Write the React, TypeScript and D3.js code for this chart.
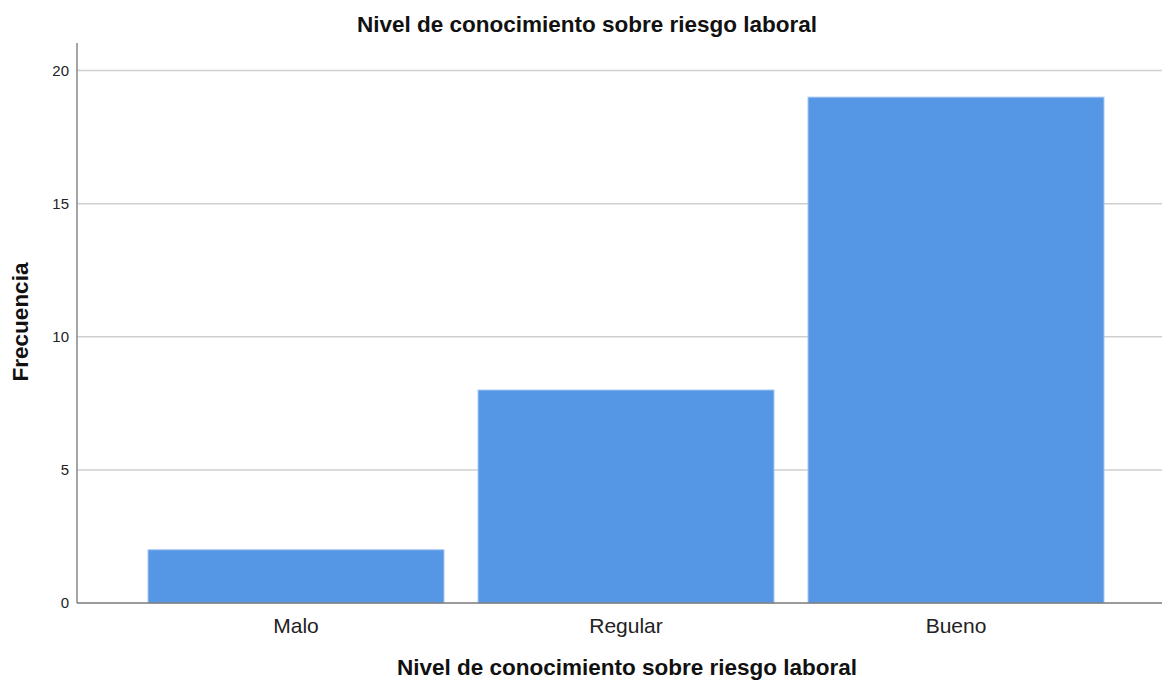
import React from "react";
import * as d3 from "d3";

const categories = ["Malo", "Regular", "Bueno"];
const values = [2, 8, 19];
const yTicks = [0, 5, 10, 15, 20];
const title = "Nivel de conocimiento sobre riesgo laboral";
const xTitle = "Nivel de conocimiento sobre riesgo laboral";
const yTitle = "Frecuencia";

export default function App() {
  const W = 1162, H = 683;
  const left = 77, right = 1162, top = 43, bottom = 603;
  const y = d3.scaleLinear().domain([0, 20]).range([bottom, 70.5]);
  const x = d3.scaleBand().domain(categories).range([148, 1104]).paddingInner(34 / 330).paddingOuter(0);
  const font = "'Liberation Sans', Arial, sans-serif";
  return (
    <svg width={W} height={H} style={{ position: "absolute", left: 0, top: 0 }} fontFamily={font}>
      <rect width={W} height={H} fill="#fff" />
      {yTicks.filter(t => t > 0).map(t => (
        <line key={t} x1={left} x2={right} y1={y(t)} y2={y(t)} stroke="#cfcfcf" strokeWidth={1.5} />
      ))}
      {categories.map((c, i) => (
        <rect key={c} x={x(c)!} y={y(values[i])} width={x.bandwidth()} height={bottom - y(values[i])}
          fill="#5596e5" stroke="#a9c8f0" strokeWidth={1} />
      ))}
      <line x1={left} x2={left} y1={top} y2={bottom} stroke="#888" strokeWidth={1.5} />
      <line x1={left} x2={right} y1={bottom} y2={bottom} stroke="#7a7a7a" strokeWidth={1.5} />
      {yTicks.map(t => (
        <text key={t} x={left - 8} y={y(t)} dy="0.35em" textAnchor="end" fontSize={15} fill="#222">{t}</text>
      ))}
      {categories.map(c => (
        <text key={c} x={x(c)! + x.bandwidth() / 2} y={633} textAnchor="middle" fontSize={21} fill="#222">{c}</text>
      ))}
      <text x={587} y={32} textAnchor="middle" fontSize={22.5} fontWeight="bold" fill="#111">{title}</text>
      <text x={627} y={675} textAnchor="middle" fontSize={22.5} fontWeight="bold" fill="#111">{xTitle}</text>
      <text transform={`translate(28,${322}) rotate(-90)`} textAnchor="middle" fontSize={22.5} fontWeight="bold" fill="#111">{yTitle}</text>
    </svg>
  );
}
